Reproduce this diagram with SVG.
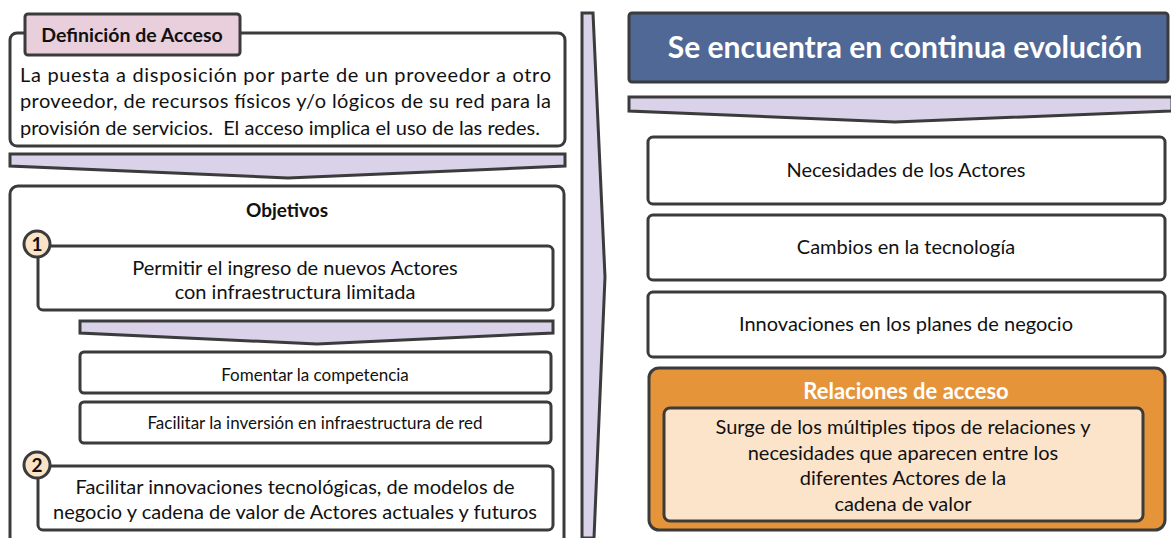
<svg xmlns="http://www.w3.org/2000/svg" width="1171" height="538" viewBox="0 0 1171 538">
<style>
.box{fill:#fff;stroke:#3b3b3b;stroke-width:3}
.chev{fill:#d9d2e8;stroke:#3b3b3b;stroke-width:3;stroke-linejoin:miter}
.t{font-family:Lato,"Open Sans",sans-serif;fill:#111;text-anchor:middle}
.b{font-weight:bold}
.num{fill:#fbe3c8;stroke:#3b3b3b;stroke-width:3}
</style>
<rect width="1171" height="538" fill="#fff"/>

<g id="definicion">
<rect class="box" x="10" y="33" width="555" height="113" rx="7"/>
<rect x="25" y="14" width="215" height="41" rx="3" fill="#e8cfdb" stroke="#3b3b3b" stroke-width="3"/>
<text class="t b" x="132" y="42" font-size="19.5">Definición de Acceso</text>
<text class="t" x="20" y="82" font-size="20" style="text-anchor:start" textLength="531" lengthAdjust="spacing">La puesta a disposición por parte de un proveedor a otro</text>
<text class="t" x="20" y="108" font-size="20" style="text-anchor:start" textLength="531" lengthAdjust="spacing">proveedor, de recursos físicos y/o lógicos de su red para la</text>
<text class="t" x="20" y="135" font-size="20" style="text-anchor:start" xml:space="preserve">provisión de servicios.  El acceso implica el uso de las redes.</text>
</g>

<g id="objetivos">
<rect class="box" x="10" y="186" width="554" height="360" rx="8"/>
<text class="t b" x="287" y="217" font-size="19">Objetivos</text>
</g>

<g id="objetivo1">
<path class="box" d="M38,246 H548 a5,5 0 0 1 5,5 V305 a5,5 0 0 1 -5,5 H43 a5,5 0 0 1 -5,-5 Z"/>
<circle class="num" cx="37" cy="244" r="13"/>
<text class="t b" x="37" y="251" font-size="19">1</text>
<text class="t" x="295" y="275" font-size="20">Permitir el ingreso de nuevos Actores</text>
<text class="t" x="295" y="299" font-size="20">con infraestructura limitada</text>
</g>

<g id="fomentar">
<rect class="box" x="80" y="352" width="471" height="41" rx="4"/>
<text class="t" x="315" y="381" font-size="17">Fomentar la competencia</text>
</g>

<g id="inversion">
<rect class="box" x="80" y="402" width="471" height="41" rx="4"/>
<text class="t" x="315" y="429" font-size="17">Facilitar la inversión en infraestructura de red</text>
</g>

<g id="objetivo2">
<path class="box" d="M38,466 H548 a5,5 0 0 1 5,5 V525 a5,5 0 0 1 -5,5 H43 a5,5 0 0 1 -5,-5 Z"/>
<circle class="num" cx="37" cy="465" r="13"/>
<text class="t b" x="37" y="472" font-size="19">2</text>
<text class="t" x="295" y="494" font-size="20">Facilitar innovaciones tecnológicas, de modelos de</text>
<text class="t" x="295" y="519" font-size="20">negocio y cadena de valor de Actores actuales y futuros</text>
</g>

<g id="titulo">
<rect x="629" y="13" width="539" height="69" rx="3" fill="#4f6896" stroke="#3b3b3b" stroke-width="3"/>
<text class="t b" x="905" y="58" font-size="30" style="fill:#fff">Se encuentra en continua evolución</text>
</g>

<g id="necesidades">
<rect class="box" x="648" y="137" width="517" height="67" rx="5"/>
<text class="t" x="906" y="177" font-size="20">Necesidades de los Actores</text>
</g>

<g id="cambios">
<rect class="box" x="648" y="215" width="517" height="65" rx="5"/>
<text class="t" x="906" y="254" font-size="20">Cambios en la tecnología</text>
</g>

<g id="innovaciones">
<rect class="box" x="648" y="292" width="517" height="65" rx="5"/>
<text class="t" x="906" y="331" font-size="20">Innovaciones en los planes de negocio</text>
</g>

<g id="relaciones">
<rect x="649" y="368" width="516" height="162" rx="10" fill="#e6943a" stroke="#3b3b3b" stroke-width="3"/>
<text class="t b" x="906" y="399" font-size="22" style="fill:#fff">Relaciones de acceso</text>
<rect x="664" y="408" width="479" height="113" rx="6" fill="#fce4cb" stroke="#3b3b3b" stroke-width="3"/>
<text class="t" x="903" y="434" font-size="20">Surge de los múltiples tipos de relaciones y</text>
<text class="t" x="903" y="460" font-size="20">necesidades que aparecen entre los</text>
<text class="t" x="903" y="485" font-size="20">diferentes Actores de la</text>
<text class="t" x="903" y="511" font-size="20">cadena de valor</text>
</g>

<g id="conectores">
<polygon class="chev" points="10,154 565,154 565,166 288,178 10,166"/>
<polygon class="chev" points="80,321 553,321 553,333 317,344 80,333"/>
<polygon class="chev" points="582,13 593,13 605,277 594,538 582,538"/>
<polygon class="chev" points="629,97 1172,97 1172,111 895,122 629,111"/>
</g>
</svg>
